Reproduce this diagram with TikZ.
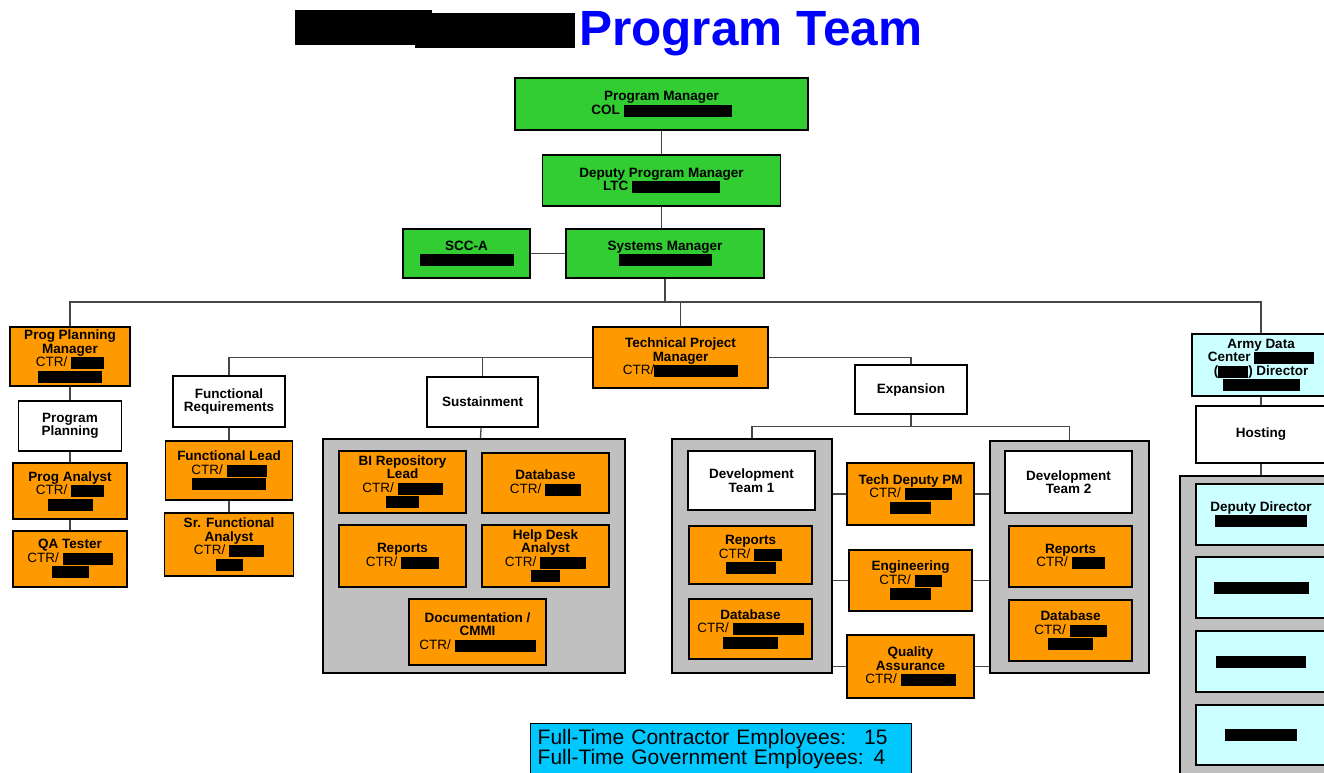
\documentclass[tikz,border=0pt]{standalone}
\usepackage{fontspec}
\setmainfont{Liberation Sans}
\usepackage{tikz}
\usetikzlibrary{backgrounds}
\definecolor{pmgreen}{RGB}{50,205,50}
\definecolor{ctrorange}{RGB}{255,153,0}
\definecolor{panelgray}{RGB}{192,192,192}
\definecolor{hostcyan}{RGB}{204,255,255}
\definecolor{legendcyan}{RGB}{0,200,255}
\definecolor{titleblue}{RGB}{0,0,255}
\definecolor{linkgray}{RGB}{70,70,70}
\newcommand{\blackout}[1]{\rule[-2.5pt]{#1pt}{12pt}}

\begin{document}
\begin{tikzpicture}[x=1pt,y=-1pt,every node/.style={font=\fontsize{13.5}{13.5}\selectfont\bfseries, align=center, inner sep=1pt},
	box/.style={draw, line width=1.4pt}, greenbox/.style={box, fill=pmgreen}, orangebox/.style={box, fill=ctrorange},
	whitebox/.style={box, fill=white}, cyanbox/.style={box, fill=hostcyan}, panel/.style={box, fill=panelgray},
	link/.style={draw=linkgray, line width=1.3pt}]
	
	\clip (0,0) rectangle (1324,772);
	
	\fill (295,10) rectangle (432,45);
	\fill (415,13) rectangle (575,48);
	\node[anchor=base west, font=\fontsize{49.5}{49.5}\selectfont\bfseries, text=titleblue] (title) at (578,45) {Program Team};
	
	\node[greenbox, minimum width=293, minimum height=52] (pm) at (661.5,104) {Program Manager\\COL \blackout{108}};
	\node[greenbox, minimum width=238, minimum height=51] (dpm) at (661.5,180.5) {Deputy Program Manager\\LTC \blackout{88}};
	\node[greenbox, minimum width=198, minimum height=49] (sm) at (665,253.5) {Systems Manager\\\blackout{93}};
	\node[greenbox, minimum width=127, minimum height=49] (scc) at (466.5,253.5) {SCC-A\\\blackout{94}};
	
	\node[orangebox, minimum width=120, minimum height=59] (ppm) at (70,356.5) {Prog Planning\\Manager\\\textmd{CTR/} \blackout{33}\\\blackout{64}};
	\node[whitebox, minimum width=103, minimum height=50] (pplan) at (70,426) {Program\\Planning};
	\node[orangebox, minimum width=114, minimum height=56] (panal) at (70,491) {Prog Analyst\\\textmd{CTR/} \blackout{33}\\\blackout{45}};
	\node[orangebox, minimum width=114, minimum height=56] (qat) at (70,559) {QA Tester\\\textmd{CTR/} \blackout{50}\\\blackout{37}};
	
	\node[orangebox, minimum width=175, minimum height=61] (tpm) at (680.5,357.5) {Technical Project\\Manager\\\textmd{CTR/}\blackout{84}};
	
	\node[whitebox, minimum width=112, minimum height=51] (freq) at (229,401.5) {Functional\\Requirements};
	\node[orangebox, minimum width=127, minimum height=59] (flead) at (229,470.5) {Functional Lead\\\textmd{CTR/} \blackout{40}\\\blackout{74}};
	\node[orangebox, minimum width=129, minimum height=63] (sfa) at (229,544.5) {Sr. Functional\\Analyst\\\textmd{CTR/} \blackout{35}\\\blackout{27}};
	
	\node[whitebox, minimum width=111, minimum height=50] (sust) at (482.5,402) {Sustainment};
	\node[panel, minimum width=302, minimum height=234] (spanel) at (474,556) {};
	\node[orangebox, minimum width=127, minimum height=62] (bilead) at (402.5,482) {BI Repository\\Lead\\\textmd{CTR/} \blackout{45}\\\blackout{33}};
	\node[orangebox, minimum width=127, minimum height=60] (sdb) at (545.5,483) {Database\\\textmd{CTR/} \blackout{36}};
	\node[orangebox, minimum width=127, minimum height=62] (srep) at (402.5,556) {Reports\\\textmd{CTR/} \blackout{38}};
	\node[orangebox, minimum width=127, minimum height=62] (help) at (545.5,556) {Help Desk\\Analyst\\\textmd{CTR/} \blackout{46}\\\blackout{29}};
	\node[orangebox, minimum width=137, minimum height=66] (doc) at (477.5,632) {Documentation /\\CMMI\\\textmd{CTR/} \blackout{81}};
	
	\node[whitebox, minimum width=112, minimum height=49] (exp) at (911,389.5) {Expansion};
	\node[panel, minimum width=160, minimum height=234] (dpanel1) at (752,556) {};
	\node[whitebox, minimum width=127, minimum height=59] (dev1) at (751.5,480.5) {Development\\Team 1};
	\node[orangebox, minimum width=123, minimum height=58] (d1rep) at (750.5,555) {Reports\\\textmd{CTR/} \blackout{28}\\\blackout{50}};
	\node[orangebox, minimum width=123, minimum height=60] (d1db) at (750.5,629) {Database\\\textmd{CTR/} \blackout{71}\\\blackout{55}};
	\node[orangebox, minimum width=127, minimum height=62] (tdpm) at (910.5,494) {Tech Deputy PM\\\textmd{CTR/} \blackout{47}\\\blackout{41}};
	\node[orangebox, minimum width=123, minimum height=61] (eng) at (910.5,580.5) {Engineering\\\textmd{CTR/} \blackout{27}\\\blackout{41}};
	\node[orangebox, minimum width=127, minimum height=63] (qa) at (910.5,666.5) {Quality\\Assurance\\\textmd{CTR/} \blackout{55}};
	\node[panel, minimum width=159, minimum height=232] (dpanel2) at (1069.5,557) {};
	\node[whitebox, minimum width=127, minimum height=62] (dev2) at (1068.5,482) {Development\\Team 2};
	\node[orangebox, minimum width=123, minimum height=61] (d2rep) at (1070.5,556.5) {Reports\\\textmd{CTR/} \blackout{33}};
	\node[orangebox, minimum width=123, minimum height=61] (d2db) at (1070.5,630.5) {Database\\\textmd{CTR/} \blackout{37}\\\blackout{45}};
	
	\node[cyanbox, minimum width=138, minimum height=62] (adc) at (1261,365) {Army Data\\Center \blackout{60}\\(\blackout{30}) Director\\\blackout{77}};
	\node[whitebox, minimum width=130, minimum height=57] (host) at (1261,434.5) {Hosting};
	\node[panel, minimum width=162, minimum height=314] (hpanel) at (1261,633) {};
	\node[cyanbox, minimum width=130, minimum height=61] (ddir) at (1261,514.5) {Deputy Director\\\blackout{92}};
	\node[cyanbox, minimum width=130, minimum height=61] (hbox2) at (1261,587.5) {\blackout{95}};
	\node[cyanbox, minimum width=130, minimum height=61] (hbox3) at (1261,661.5) {\blackout{90}};
	\node[cyanbox, minimum width=130, minimum height=60] (hbox4) at (1261,735) {\blackout{72}};
	
	\node[box, fill=legendcyan, anchor=north west, minimum width=381, minimum height=50, text width=367pt, inner xsep=7pt, align=left,
		font=\fontsize{21}{20}\selectfont] (legend) at (530,723) {Full-Time Contractor Employees:\hspace{18pt}15\\Full-Time Government Employees:\hspace{10pt}4};
	
	\coordinate (bus) at (0,302);
	\draw[link] (pm) -- (dpm);
	\draw[link] (dpm.south) -- (dpm.south |- sm.north);
	\draw[link] (scc) -- (sm);
	\draw[link] (sm.south) -- (sm.south |- bus);
	\draw[link] (ppm.north) |- (adc.north |- bus) -- (adc.north);
	\draw[link] (tpm.north) -- (tpm.north |- bus);
	\draw[link] (ppm) -- (pplan);
	\draw[link] (pplan) -- (panal);
	\draw[link] (panal) -- (qat);
	\draw[link] (tpm.west) -| (freq.north);
	\draw[link] (sust.north) -- (sust.north |- tpm.west);
	\draw[link] (tpm.east) -| (exp.north);
	\draw[link] (freq) -- (flead);
	\draw[link] (flead) -- (sfa);
	\draw[link] (sust) -- (spanel);
	\draw[link] (exp.south) -- ++(0,12) coordinate (expbus);
	\draw[link] (dpanel1.north) |- (expbus) -| (dpanel2.north);
	\draw[link] (tdpm.west) -- (tdpm.west -| dpanel1.east);
	\draw[link] (tdpm.east) -- (tdpm.east -| dpanel2.west);
	\draw[link] (eng.west) -- (eng.west -| dpanel1.east);
	\draw[link] (eng.east) -- (eng.east -| dpanel2.west);
	\draw[link] (qa.west) -- (qa.west -| dpanel1.east);
	\draw[link] (qa.east) -- (qa.east -| dpanel2.west);
	\draw[link] (adc) -- (host);
	\draw[link] (host) -- (hpanel);
\end{tikzpicture}
\end{document}
